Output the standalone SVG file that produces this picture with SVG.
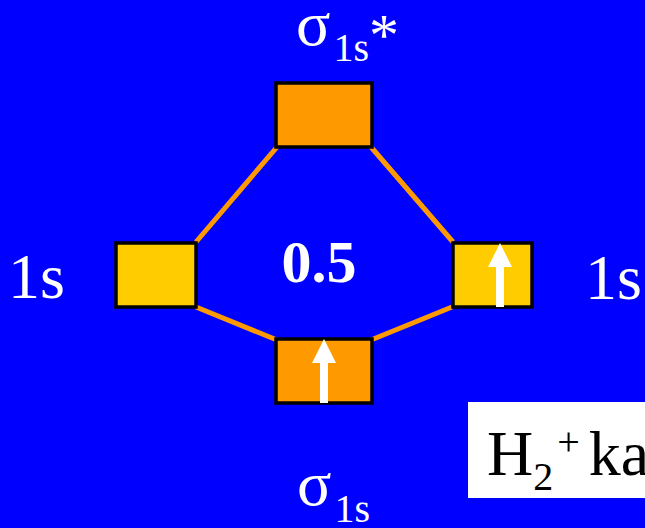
<svg xmlns="http://www.w3.org/2000/svg" width="645" height="528" viewBox="0 0 645 528">
<style>
text{font-family:"Liberation Serif","Times New Roman","DejaVu Serif",serif}
.t{fill:#FFFFFF}
.box{stroke:#000000;stroke-width:3.5}
.mo{fill:#FF9900}
.ao{fill:#FFCC00}
.con{stroke:#FF9900;stroke-width:5;fill:none}
.arr{fill:#FFFFFF}
</style>
<defs>
<path id="arrow" d="M-4 0 V-40 H-12 L0 -64 L12 -40 H4 V0 Z"/>
</defs>
<rect width="645" height="528" fill="#0000FF"/>
<g id="connectors">
<line class="con" x1="277" y1="147" x2="196" y2="242"/>
<line class="con" x1="371" y1="147" x2="453" y2="242"/>
<line class="con" x1="196" y1="307" x2="277" y2="340"/>
<line class="con" x1="452" y1="307" x2="371" y2="340"/>
</g>
<g id="sigma-star">
<rect class="box mo" x="276" y="83" width="96" height="64"/>
<text class="t" x="296" y="45" font-size="64">σ<tspan font-size="40" dy="16" dx="3">1s</tspan><tspan font-size="60" dy="-6">*</tspan></text>
</g>
<g id="left-1s">
<rect class="box ao" x="116" y="243" width="80" height="64"/>
<text class="t" x="8" y="298" font-size="64">1s</text>
</g>
<g id="right-1s">
<rect class="box ao" x="453" y="243" width="79" height="64"/>
<use href="#arrow" class="arr" x="500" y="307"/>
<text class="t" x="585" y="299" font-size="64">1s</text>
</g>
<g id="sigma">
<rect class="box mo" x="276" y="339" width="96" height="64"/>
<use href="#arrow" class="arr" x="324" y="403"/>
<text class="t" x="297" y="505" font-size="64">σ<tspan font-size="40" dy="17" dx="3">1s</tspan></text>
</g>
<g id="bond-order">
<text class="t" x="319" y="282" font-size="60" font-weight="bold" text-anchor="middle">0.5</text>
</g>
<g id="caption">
<rect x="468" y="402" width="180" height="96" fill="#FFFFFF"/>
<text x="487" y="475" font-size="64" fill="#000000">H<tspan font-size="40" dy="15">2</tspan><tspan font-size="40" dy="-35" dx="4">+</tspan><tspan font-size="64" dy="20" dx="9">ka</tspan></text>
</g>
</svg>
